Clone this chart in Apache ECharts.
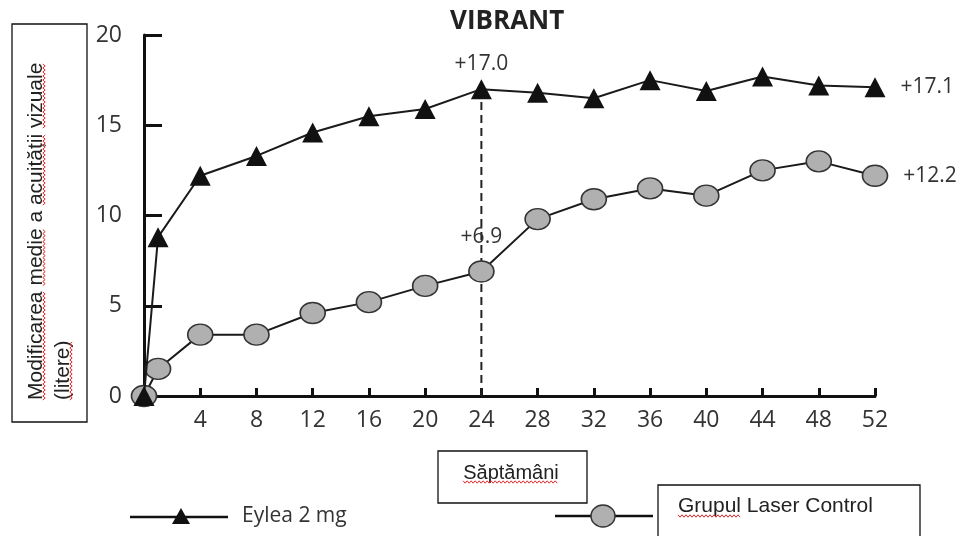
<!DOCTYPE html>
<html>
<head>
<meta charset="utf-8">
<script src="https://cdn.jsdelivr.net/npm/echarts@6/dist/echarts.min.js"></script>
<style>
  html, body { margin: 0; background: #fff; }
  #vibrant { width: 963px; height: 536px; }
</style>
</head>
<body>
<div id="vibrant"></div>
<script>
// date
const weeks = [0, 1, 4, 8, 12, 16, 20, 24, 28, 32, 36, 40, 44, 48, 52];
const eylea = [0, 8.8, 12.2, 13.3, 14.6, 15.5, 15.9, 17.0, 16.8, 16.5, 17.5, 16.9, 17.7, 17.2, 17.1];
const laser = [0, 1.5, 3.4, 3.4, 4.6, 5.2, 6.1, 6.9, 9.8, 10.9, 11.5, 11.1, 12.5, 13.0, 12.2];
const eyleaCallouts = { 24: 'top', 52: 'right' };
const laserCallouts = { 24: 'top', 52: 'right' };
const dashWeek = 24;

const seriesNames = ['Eylea 2 mg', 'Grupul Laser Control'];
const xAxisName = 'Săptămâni';
const yAxisName = ['Modificarea medie a acuității vizuale', '(litere)'];

var chartDom = document.getElementById('vibrant');
var myChart = echarts.init(chartDom);

var BOX_FONT = 'Liberation Sans';

function buildData(values, callouts, dist) {
  return weeks.map(function (w, i) {
    var item = { value: [w, values[i]] };
    if (callouts[w]) {
      item.label = {
        show: true,
        position: callouts[w],
        distance: callouts[w] === 'right' ? 15 : dist,
        formatter: '+' + values[i].toFixed(1),
        fontFamily: 'Open Sans',
        fontSize: 21,
        color: '#333'
      };
    }
    return item;
  });
}

// sublinierea ondulata rosie (corector ortografic)
var measureCtx = document.createElement('canvas').getContext('2d');
function textWidth(str, size) {
  measureCtx.font = size + 'px "' + BOX_FONT + '"';
  return measureCtx.measureText(str).width;
}
function squiggle(x0, x1, y) {
  var pts = [], up = true;
  for (var x = x0; x <= x1; x += 2) {
    pts.push([x, up ? y - 1.2 : y + 1.2]);
    up = !up;
  }
  return { type: 'polyline', shape: { points: pts }, style: { stroke: '#e02828', lineWidth: 1, fill: null } };
}
// cuvintele subliniate dintr-un rand de text, in coordonate locale
function wordSquiggles(line, size, skip, y) {
  var out = [], pos = 0;
  line.split(' ').forEach(function (word) {
    var w = textWidth(word, size);
    if (skip.indexOf(word) < 0) out.push(squiggle(pos, pos + w, y));
    pos += w + textWidth(' ', size);
  });
  return out;
}

var dashTop = eylea[weeks.indexOf(dashWeek)];
var ySize = 21;

var option = {
  animation: false,
  title: {
    text: 'VIBRANT',
    left: 450,
    top: 9,
    padding: 0,
    textStyle: { fontFamily: 'Open Sans', fontSize: 26, fontWeight: 'bold', color: '#222' }
  },
  grid: { left: 144, right: 88, top: 35, bottom: 140 },
  xAxis: {
    type: 'value',
    min: 0,
    max: 52,
    interval: 4,
    splitLine: { show: false },
    axisLine: { lineStyle: { color: '#111', width: 3 } },
    axisTick: { inside: true, length: 8, lineStyle: { color: '#111', width: 3 } },
    axisLabel: {
      margin: 13,
      fontFamily: 'Open Sans',
      fontSize: 23,
      color: '#333',
      formatter: function (v) { return v === 0 ? '' : v; }
    }
  },
  yAxis: {
    type: 'value',
    min: 0,
    max: 20,
    interval: 5,
    splitLine: { show: false },
    axisLine: { show: true, lineStyle: { color: '#111', width: 3 } },
    axisTick: { show: true, inside: true, length: 18, lineStyle: { color: '#111', width: 3 } },
    axisLabel: { margin: 22, fontFamily: 'Open Sans', fontSize: 23, color: '#333' }
  },
  series: [
    {
      type: 'line',
      name: 'dash',
      data: [[dashWeek, 0], [dashWeek, dashTop]],
      symbol: 'none',
      lineStyle: { color: '#222', width: 2, type: [8, 5] },
      z: 1
    },
    {
      type: 'line',
      name: seriesNames[1],
      data: buildData(laser, laserCallouts, 13),
      symbol: 'circle',
      symbolSize: [25, 21],
      clip: false,
      lineStyle: { color: '#1a1a1a', width: 2 },
      itemStyle: { color: '#b0b0b0', borderColor: '#333', borderWidth: 1.5 },
      z: 3
    },
    {
      type: 'line',
      name: seriesNames[0],
      data: buildData(eylea, eyleaCallouts, 5),
      symbol: 'triangle',
      symbolSize: [21, 20],
      clip: false,
      lineStyle: { color: '#1a1a1a', width: 2 },
      itemStyle: { color: '#111' },
      z: 4
    }
  ],
  graphic: [
    // caseta axei Y
    { type: 'rect', shape: { x: 12, y: 24, width: 75, height: 398 },
      style: { fill: 'none', stroke: '#111', lineWidth: 1.3 } },
    { type: 'group', x: 36, y: 400, rotation: Math.PI / 2,
      children: [
        { type: 'text', x: 0, y: 0,
          style: { text: yAxisName[0], align: 'left', verticalAlign: 'middle',
                   fontFamily: BOX_FONT, fontSize: ySize, fill: '#222' } }
      ].concat(wordSquiggles(yAxisName[0], ySize, ['a'], 8)) },
    { type: 'group', x: 63, y: 400, rotation: Math.PI / 2,
      children: [
        { type: 'text', x: 0, y: 0,
          style: { text: yAxisName[1], align: 'left', verticalAlign: 'middle',
                   fontFamily: BOX_FONT, fontSize: ySize, fill: '#222' } }
      ].concat(wordSquiggles(yAxisName[1], ySize, [], 8)) },
    // caseta axei X
    { type: 'rect', shape: { x: 438, y: 451, width: 149, height: 52 },
      style: { fill: '#fff', stroke: '#111', lineWidth: 1.3 } },
    { type: 'text', x: 511, y: 473,
      style: { text: xAxisName, align: 'center', verticalAlign: 'middle',
               fontFamily: BOX_FONT, fontSize: 20, fill: '#222' } },
    squiggle(511 - textWidth(xAxisName, 20) / 2, 511 + textWidth(xAxisName, 20) / 2, 482),
    // legenda Eylea
    { type: 'line', shape: { x1: 130, y1: 517, x2: 228, y2: 517 },
      style: { stroke: '#111', lineWidth: 2.5 } },
    { type: 'polygon', shape: { points: [[172, 524], [190, 524], [181, 508]] },
      style: { fill: '#111' } },
    { type: 'text', x: 242, y: 516,
      style: { text: seriesNames[0], align: 'left', verticalAlign: 'middle',
               fontFamily: 'Open Sans', fontSize: 21, fill: '#333' } },
    // legenda Laser
    { type: 'line', shape: { x1: 555, y1: 516, x2: 653, y2: 516 },
      style: { stroke: '#111', lineWidth: 2.5 } },
    { type: 'ellipse', shape: { cx: 603, cy: 516, rx: 12, ry: 11 },
      style: { fill: '#b0b0b0', stroke: '#333', lineWidth: 1.5 } },
    { type: 'rect', shape: { x: 658, y: 485, width: 262, height: 70 },
      style: { fill: '#fff', stroke: '#111', lineWidth: 1.3 } },
    { type: 'text', x: 678, y: 506,
      style: { text: seriesNames[1], align: 'left', verticalAlign: 'middle',
               fontFamily: BOX_FONT, fontSize: 21, fill: '#222' } },
    squiggle(678, 678 + textWidth('Grupul', 21), 516)
  ]
};

myChart.setOption(option);
</script>
</body>
</html>
